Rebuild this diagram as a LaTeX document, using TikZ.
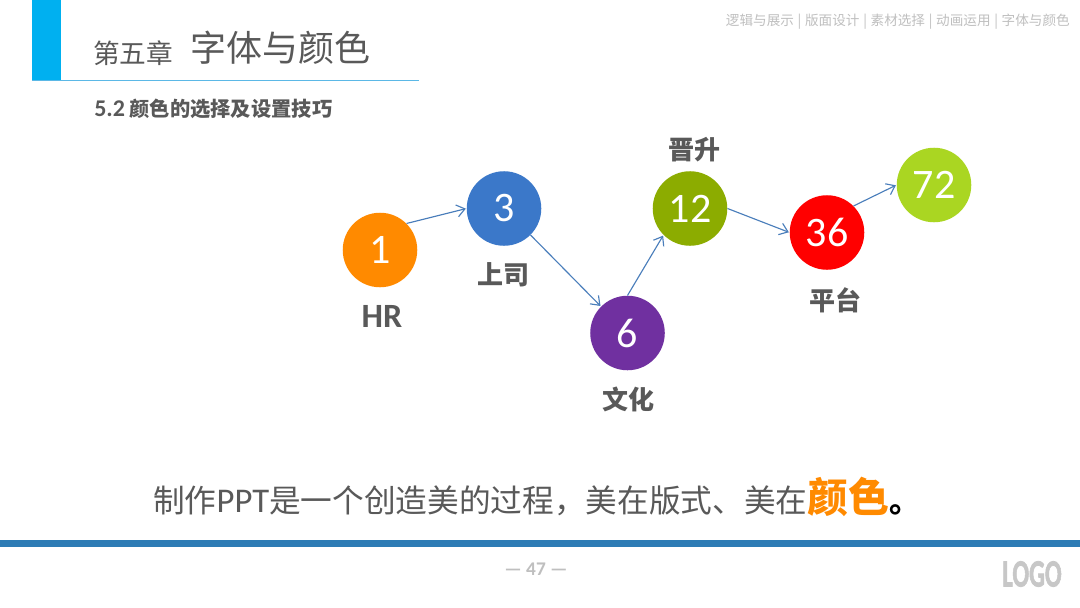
\documentclass[tikz,border=0pt]{standalone}
\usepackage{fontspec}
\setmainfont{Noto Sans CJK SC}
\newfontfamily\lat{Carlito}
\newfontfamily\logofont[FakeBold=2]{Carlito Bold}
\usetikzlibrary{arrows.meta}
\definecolor{txt}{HTML}{595959}
\definecolor{cyanbar}{HTML}{00B0F0}
\definecolor{blueline}{HTML}{5BB8E6}
\definecolor{footbar}{HTML}{2E7CB5}
\definecolor{arrowc}{HTML}{4A7EBB}
\definecolor{orangec}{HTML}{FF8A00}
\definecolor{bluec}{HTML}{3B78C9}
\definecolor{purplec}{HTML}{7030A0}
\definecolor{olivec}{HTML}{8CAC00}
\definecolor{limec}{HTML}{AAD622}
\newcommand{\navsep}{\kern2.8pt|\kern2.8pt}
\newcommand{\dgt}[1]{\raisebox{-0.9pt}{#1}}
\tikzset{
  num/.style={circle,minimum size=55.9pt,inner sep=0,text=white,font=\lat\fontsize{31.5}{32}\selectfont},
  lab/.style={text=txt,inner sep=0,font=\bfseries\fontsize{19.5}{22}\selectfont},
  conn/.style={draw=arrowc,line width=0.85pt,-{Straight Barb[length=6pt,width=9pt,line width=0.85pt]},shorten >=0.5pt},
}
\begin{document}
\begin{tikzpicture}[x=0.75pt,y=-0.75pt]
\useasboundingbox (0,0) rectangle (1080,607);
\fill[white] (0,0) rectangle (1080,607);
% header
\fill[cyanbar] (32,0) rectangle (61,80);
\draw[blueline,line width=0.8pt] (32,80.5) -- (419,80.5);
\node[text=txt,anchor=west,inner sep=0,font=\fontsize{20}{24}\selectfont] (chap) at (93,53) {第五章};
\node[text=txt,anchor=west,inner sep=0,font=\fontsize{27}{30}\selectfont] (title) at (190,48) {字体与颜色};
\node[text=txt,anchor=west,inner sep=0,font=\bfseries\fontsize{15.2}{18}\selectfont] (sub) at (94,109) {{\lat\fontsize{18}{18}\selectfont 5.2} 颜色的选择及设置技巧};
\node[text=black!25,anchor=east,inner sep=0,font=\fontsize{10.2}{14}\selectfont] (nav) at (1070,22) {逻辑与展示\navsep 版面设计\navsep 素材选择\navsep 动画运用\navsep 字体与颜色};
% circles
\node[num,fill=orangec] (n1) at (380,250) {\dgt{1}};
\node[num,fill=bluec] (n3) at (504,208.5) {\dgt{3}};
\node[num,fill=purplec] (n6) at (627.5,333) {\dgt{6}};
\node[num,fill=olivec] (n12) at (690,208.5) {\dgt{12}};
\node[num,fill=red] (n36) at (827,232.5) {\dgt{36}};
\node[num,fill=limec] (n72) at (934,185) {\dgt{72}};
% connectors
\draw[conn] (n1.45) -- (n3.180);
\draw[conn] (n3.-45) -- (n6.135);
\draw[conn] (n6.90) -- (n12.-135);
\draw[conn] (n12.0) -- (n36.180);
\draw[conn] (n36.45) -- (n72.180);
% labels
\node[lab,font=\lat\bfseries\fontsize{25.5}{26}\selectfont] (lhr) at (382,316) {HR};
\node[lab] (l3) at (503,275) {上司};
\node[lab] (l6) at (628,399) {文化};
\node[lab] (l12) at (694,150) {晋升};
\node[lab] (l36) at (835,300) {平台};
% slogan
\node[anchor=west,inner sep=0,text=txt,font=\fontsize{23.75}{28}\selectfont] (slogan) at (153,496.5) {制作{\lat\fontsize{26}{28}\selectfont PPT}是一个创造美的过程，美在版式、美在{\bfseries\color{orangec}\fontsize{30.7}{32}\selectfont 颜色}{\bfseries\color{black}。}};
% footer
\fill[footbar] (0,540) rectangle (1080,546.5);
\node[text=black!25,inner sep=0,font=\lat\bfseries\fontsize{14.5}{15}\selectfont] (page) at (536,569) {— 47 —};
\node[text=black!22,inner sep=0,font=\logofont\fontsize{29}{30}\selectfont,xscale=0.64] (logo) at (1032,574) {LOGO};
\end{tikzpicture}
\end{document}
